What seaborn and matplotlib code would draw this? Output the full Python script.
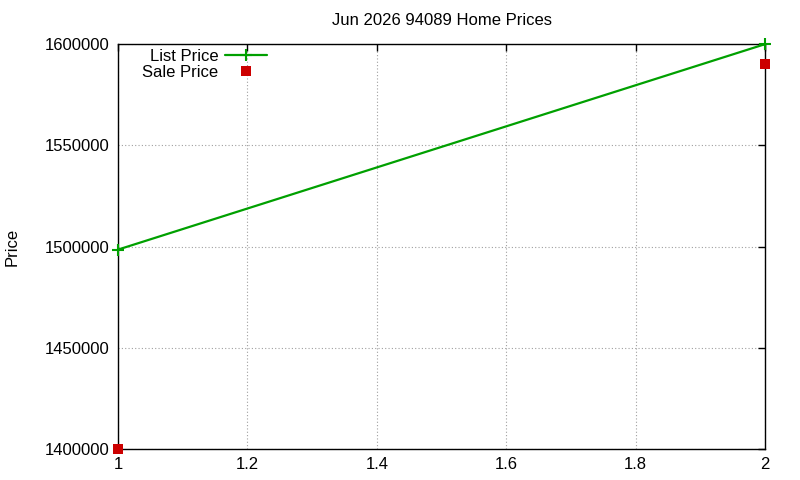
import matplotlib
matplotlib.use("Agg")
import matplotlib.pyplot as plt
from matplotlib.lines import Line2D
import seaborn as sns
import pandas as pd

x_vals = [1, 2]
list_price = [1498500, 1600000]
sale_price = [1400000, 1590000]
x_ticks = [1, 1.2, 1.4, 1.6, 1.8, 2]
y_ticks = [1400000, 1450000, 1500000, 1550000, 1600000]

sns.set_style("white")
plt.rcParams['font.family'] = ['Liberation Sans', 'DejaVu Sans']
plt.rcParams['text.color'] = 'black'
plt.rcParams['axes.labelcolor'] = 'black'

GREEN = "#00a000"
RED = "#cc0000"

df_list = pd.DataFrame({"x": x_vals, "price": list_price})
df_sale = pd.DataFrame({"x": x_vals, "price": sale_price})

fig = plt.figure(figsize=(8, 4.8), dpi=100)
ax = fig.add_axes([0.1475, 0.0646, 0.8088, 0.8434])

sns.lineplot(data=df_list, x="x", y="price", ax=ax, color=GREEN, linewidth=1.6,
             marker="+", markersize=9, markeredgewidth=1.5, markeredgecolor=GREEN,
             clip_on=False, zorder=4, legend=False)
sns.scatterplot(data=df_sale, x="x", y="price", ax=ax, color=RED, marker="s",
                s=45, linewidth=0, zorder=5, clip_on=False, legend=False)

ax.set_xlim(1, 2)
ax.set_ylim(1400000, 1600000)
ax.set_xticks(x_ticks)
ax.set_xticklabels(["1", "1.2", "1.4", "1.6", "1.8", "2"])
ax.set_yticks(y_ticks)
ax.set_yticklabels([str(v) for v in y_ticks])
ax.tick_params(direction="in", length=5, width=1, top=True, right=True,
               labelsize=12, colors="black", labelcolor="black", pad=6)
ax.grid(True, color="#a0a0a0", linestyle=(0, (1, 2)), linewidth=0.8)
for s in ax.spines.values():
    s.set_color("black")
    s.set_linewidth(1)
ax.set_xlabel("")
ax.set_ylabel("Price", fontsize=12, color="black")
ax.yaxis.set_label_coords(-0.152, 0.5)
ax.text(0.5, 1 + 24 / 405, "Jun 2026 94089 Home Prices", transform=ax.transAxes,
        fontsize=12, ha="center", va="center", color="black")

handles = [
    Line2D([], [], color=GREEN, linewidth=1.6, marker="+", markersize=9,
           markeredgewidth=1.5),
    Line2D([], [], color=RED, linestyle="none", marker="s", markersize=7,
           markeredgewidth=0),
]
leg = ax.legend(handles, ["List Price", "Sale Price"], loc="upper left",
                bbox_to_anchor=(0.035, 0.993), markerfirst=False,
                frameon=False, fontsize=12, handlelength=2.5, borderaxespad=0.0,
                labelspacing=0.1, handletextpad=0.4, borderpad=0.1)
for t in leg.get_texts():
    t.set_ha("right")
leg._legend_box.align = "right"

fig.savefig("out.png", dpi=100)
